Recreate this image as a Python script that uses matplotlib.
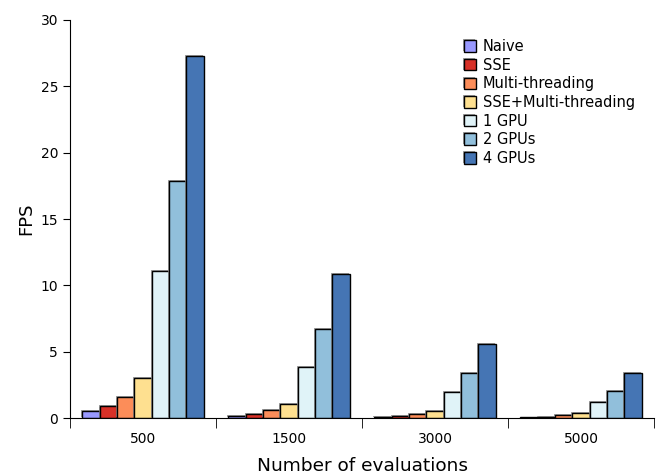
import matplotlib
matplotlib.use('Agg')
import matplotlib.pyplot as plt
import matplotlib.patheffects as pe
import numpy as np

evaluations = ['500', '1500', '3000', '5000']
methods = ['Naive', 'SSE', 'Multi-threading', 'SSE+Multi-threading', '1 GPU', '2 GPUs', '4 GPUs']
colors = ['#9999ff', '#d73027', '#fc8d59', '#fee090', '#e0f3f8', '#91bfdb', '#4575b4']

# FPS per method, one value per number of evaluations
fps = {
  'Naive':               [0.50, 0.17, 0.07, 0.04],
  'SSE':                 [0.90, 0.32, 0.17, 0.10],
  'Multi-threading':     [1.58, 0.58, 0.28, 0.20],
  'SSE+Multi-threading': [3.00, 1.05, 0.55, 0.35],
  '1 GPU':               [11.08, 3.84, 1.96, 1.18],
  '2 GPUs':              [17.90, 6.70, 3.41, 2.06],
  '4 GPUs':              [27.30, 10.85, 5.58, 3.39],
}

fig = plt.figure(figsize=(6.64, 4.76), dpi=100)
ax = fig.add_axes([0.1054, 0.1218, 0.8796, 0.8362])

index = np.arange(len(evaluations))
width = 0.83 / len(methods)
shadow = [pe.SimplePatchShadow(offset=(-0.7, 0.7), shadow_rgbFace='#888888', alpha=0.8), pe.Normal()]

for i, m in enumerate(methods):
  offset = (i - (len(methods) - 1) / 2.) * width
  ax.bar(index + offset, fps[m], width, color=colors[i], edgecolor='black',
         linewidth=1.0, label=m, path_effects=shadow)

ax.set_xlim(-0.5, len(evaluations) - 0.5)
ax.set_ylim(0, 30)
ax.set_xticks(index)
ax.set_xticklabels(evaluations, fontsize=10)
ax.set_xticks(np.arange(len(evaluations) + 1) - 0.5, minor=True)
ax.tick_params(axis='x', which='major', length=0, pad=10)
ax.tick_params(axis='x', which='minor', length=7, direction='out')
ax.tick_params(axis='y', length=5, direction='out', labelsize=10)

ax.spines['top'].set_visible(False)
ax.spines['right'].set_visible(False)

ax.set_ylabel('FPS', fontsize=13)
ax.set_xlabel('Number of evaluations', fontsize=13.3, labelpad=8)

ax.legend(loc='upper right', bbox_to_anchor=(0.99, 0.985), frameon=False, fontsize=10.5,
          handlelength=0.85, handleheight=0.85, handletextpad=0.45, labelspacing=0.25)

fig.savefig('out.png', dpi=100)
